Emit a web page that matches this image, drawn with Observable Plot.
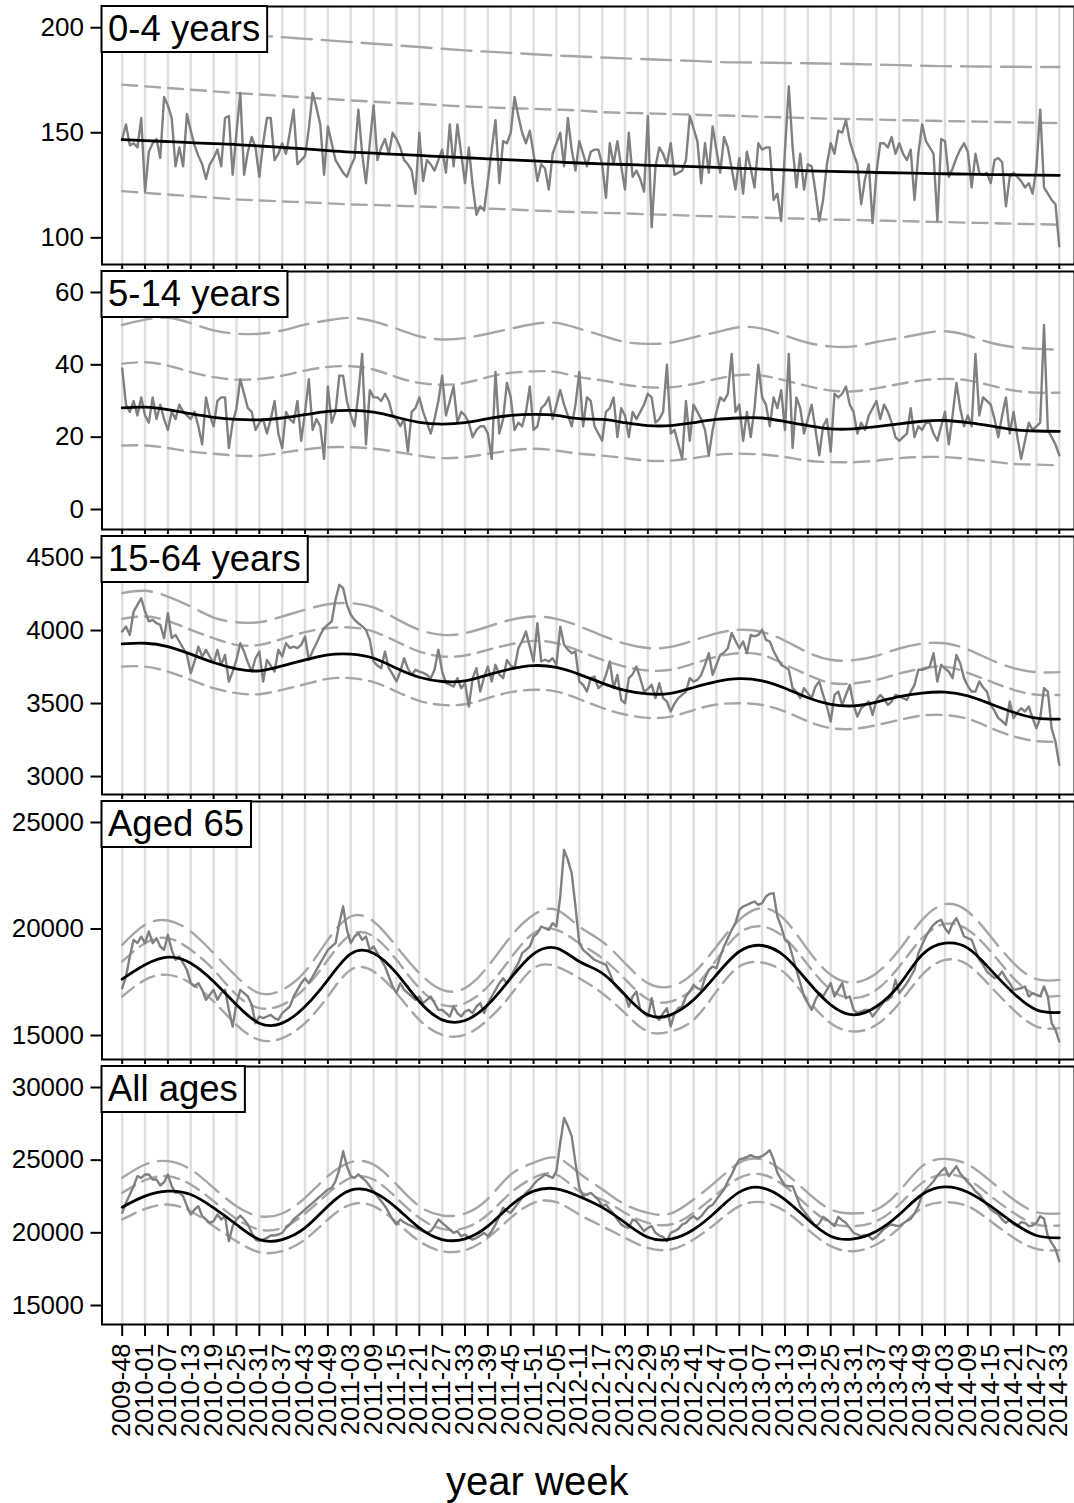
<!DOCTYPE html>
<html>
<head>
<meta charset="utf-8">
<script src="https://cdn.jsdelivr.net/npm/d3@7"></script>
<script src="https://cdn.jsdelivr.net/npm/@observablehq/plot@0.6"></script>
<style>
  html, body { margin: 0; padding: 0; background: #fff; }
  #chart { width: 1074px; }
  #chart svg { display: block; }
</style>
</head>
<body>
<div id="chart"></div>
<script>
// ---------- x-axis tick labels (every 6th ISO week) ----------
const weekTicks = ["2009-48","2010-01","2010-07","2010-13","2010-19","2010-25","2010-31","2010-37","2010-43","2010-49",
  "2011-03","2011-09","2011-15","2011-21","2011-27","2011-33","2011-39","2011-45","2011-51","2012-05",
  "2012-11","2012-17","2012-23","2012-29","2012-35","2012-41","2012-47","2013-01","2013-07","2013-13",
  "2013-19","2013-25","2013-31","2013-37","2013-43","2013-49","2014-03","2014-09","2014-15","2014-21",
  "2014-27","2014-33"];

const panelLabels = ["0-4 years", "5-14 years", "15-64 years", "Aged 65", "All ages"];

// ---------- 0-4 years ----------
const obs04 = [
  147,154,144,145,143,157,122,141,145,147, 138,167,163,157,134,143,134,159,151,144,
  139,135,128,135,138,142,134,157,158,130, 150,169,130,141,148,143,129,145,157,157,
  137,140,145,140,150,161,135,137,139,152, 169,162,154,130,153,145,137,134,131,129,
  134,138,161,140,126,145,163,137,143,147, 140,150,147,143,137,135,132,121,150,127,
  137,135,132,137,142,131,154,134,154,140, 126,143,125,111,115,113,127,142,156,126,
  146,145,150,167,158,150,145,151,140,127, 135,133,123,140,145,150,134,157,142,132,
  146,140,134,141,142,142,135,119,145,135, 146,134,123,150,129,132,128,122,158,105,
  134,143,140,135,145,130,131,132,137,158, 152,146,126,145,131,153,142,131,148,143,
  133,123,138,121,141,133,124,145,142,143, 143,118,121,108,142,172,143,124,140,123,
  135,134,122,108,118,135,145,140,151,150, 156,146,140,135,116,128,135,107,131,145,
  145,143,148,140,145,140,137,142,118,140, 154,146,143,140,108,147,146,129,133,138,
  142,145,141,124,140,131,130,131,126,137, 138,136,115,129,131,129,127,124,126,121,
  133,161,124,121,118,116,96];
const base04 = [146.7,146.3,145.8,145.3,144.8,144.4,143.7,143.0,142.3,141.5,140.8,140.3,139.7,139.2,138.6,138.1,137.6,137.1,136.6,136.1,
  135.6,135.2,134.9,134.5,134.2,133.9,133.5,133.1,132.7,132.3,131.9,131.6,131.4,131.1,130.9,130.7,130.5,130.3,130.1,130.0,129.8,129.7];
const upper2_04 = [200.5,199.8,199.1,198.4,197.7,197.0,196.2,195.5,194.7,194.0,193.2,192.4,191.6,190.8,190.0,189.2,188.6,188.0,187.4,186.8,
  186.3,185.8,185.4,185.0,184.6,184.2,183.7,183.5,183.4,183.2,183.1,182.9,182.7,182.4,182.2,181.9,181.7,181.6,181.5,181.4,181.3,181.3];
const upper1_04 = [172.9,172.1,171.3,170.5,169.7,168.9,168.2,167.5,166.8,166.1,165.4,164.8,164.2,163.7,163.1,162.5,162.1,161.7,161.4,161.0,
  160.6,159.8,159.5,159.2,158.9,158.6,158.3,158.0,157.6,157.3,157.0,156.7,156.5,156.3,156.0,155.8,155.6,155.4,155.2,155.0,154.8,154.6];
const lower04 = [122.2,121.4,120.6,119.8,119.1,118.3,117.8,117.3,116.9,116.4,115.9,115.6,115.3,114.9,114.6,114.3,113.9,113.5,113.0,112.6,
  112.2,111.9,111.6,111.2,110.9,110.5,110.2,109.9,109.6,109.3,109.0,108.7,108.5,108.2,108.0,107.7,107.5,107.2,107.0,106.7,106.5,106.2];

// ---------- 5-14 years ----------
const obs514 = [
  39,29,27,30,26,31,26,24,31,25, 29,25,22,27,25,29,27,26,25,27,
  23,18,31,26,23,30,31,31,17,24, 28,36,32,28,27,22,24,25,21,25,
  30,21,17,27,25,24,30,19,27,36, 22,25,23,14,34,24,27,37,37,30,
  26,23,32,43,18,33,31,31,30,32, 30,26,25,23,25,16,27,28,31,27,
  24,21,25,30,37,26,30,34,24,27, 26,24,20,22,23,23,21,14,38,21,
  25,35,31,22,24,23,27,34,22,23, 28,29,31,25,29,33,29,26,23,29,
  38,23,31,30,23,21,19,27,28,31, 20,28,26,20,27,25,27,29,32,31,
  24,25,27,40,21,22,18,14,30,19, 29,27,25,22,15,22,27,31,30,32,
  43,27,29,19,27,20,28,40,31,29, 23,31,28,33,22,43,17,31,28,21,
  25,29,22,15,23,25,16,32,31,32, 34,29,27,21,24,22,26,28,30,25,
  29,27,24,20,19,20,21,28,20,23, 22,24,24,21,19,23,27,18,26,35,
  28,23,26,23,43,26,31,30,29,25, 20,26,31,21,27,20,14,19,24,22,
  23,24,51,22,20,18,15];
const base514 = [28.1,28.3,27.6,26.5,25.5,24.9,24.8,25.3,26.2,27.1,27.4,26.9,25.5,24.1,23.6,24.0,25.1,26.0,26.3,26.0,
  25.1,24.9,24.0,23.2,23.2,24.0,24.9,25.3,25.3,24.3,23.2,22.3,22.3,22.9,23.7,24.4,24.6,24.0,23.1,22.1,21.7,21.6];
const upper2_514 = [51,52.5,53,51.5,49.5,48.6,48.6,49.5,51.1,52.3,53,52,50,47.9,47,47.4,48.6,50,51.3,51.6,
  50,48.1,46.3,45.8,46.1,47.6,49,50.4,50,48.1,46.1,45.1,45.1,46.3,47.4,48.6,49.3,48.1,46.1,44.9,44.4,44.2];
const upper1_514 = [40.3,40.7,39.8,38,36.6,35.9,36.1,37,38.4,39.4,39.6,38.7,36.6,35,34.5,35,36.6,37.8,38.2,38,
  36.6,35.7,34.5,33.8,33.8,34.7,36.1,37.2,37,35.7,34.1,32.9,32.7,33.5,34.7,35.7,36.1,35.7,34.3,32.9,32.3,32.3];
const lower514 = [17.7,17.7,17,16,15.4,14.9,14.9,15.7,16.6,17.2,17.2,16.8,15.9,14.9,14.2,14.5,15.4,16.3,16.8,16.3,
  15.4,14.9,14.2,13.5,13.5,14.2,15.1,15.4,15.2,14.5,13.5,13.1,13.1,13.5,14.2,14.5,14.5,14,13.3,12.6,12.4,12.2];

// ---------- 15-64 years ----------
const obs1564 = [
  3993,4027,3970,4130,4176,4221,4130,4062,4073,4050, 4039,3948,4119,3948,3970,3925,3880,3833,3708,3788,
  3890,3822,3868,3820,3776,3868,3765,3833,3651,3719, 3800,3913,3856,3780,3719,3810,3856,3651,3799,3760,
  3719,3868,3822,3913,3880,3890,3879,3902,3959,3799, 3860,3913,3970,4016,4040,4062,4210,4313,4290,4176,
  4110,4073,4050,4030,4005,3936,3788,3760,3742,3856, 3742,3700,3651,3719,3810,3740,3696,3731,3719,3710,
  3696,3674,3731,3868,3719,3639,3630,3617,3674,3605, 3640,3480,3674,3742,3582,3680,3753,3651,3765,3700,
  3674,3799,3760,3742,3879,3930,3993,3890,3788,4050, 3788,3800,3788,3810,3765,4027,3902,3870,3845,3856,
  3651,3628,3582,3674,3685,3605,3628,3696,3788,3605, 3696,3525,3502,3674,3700,3753,3674,3582,3600,3628,
  3537,3639,3537,3514,3445,3500,3537,3559,3582,3674, 3650,3662,3696,3765,3845,3696,3765,3833,3850,3879,
  3982,3930,3879,3925,3845,3970,3960,3970,4005,3936, 3925,3860,3810,3765,3750,3731,3605,3580,3537,3605,
  3570,3537,3617,3651,3559,3480,3377,3559,3582,3491, 3560,3628,3491,3411,3468,3490,3514,3422,3525,3559,
  3530,3491,3514,3559,3550,3537,3525,3580,3628,3731, 3731,3740,3753,3845,3651,3765,3740,3719,3674,3833,
  3776,3674,3620,3582,3582,3651,3610,3582,3491,3450, 3400,3380,3354,3514,3400,3440,3468,3445,3480,3400,
  3331,3400,3605,3582,3331,3240,3080];
const base1564 = [3909,3913,3890,3838,3781,3737,3724,3758,3799,3833,3838,3810,3742,3680,3651,3655,3696,3737,3760,3747,
  3700,3640,3590,3566,3570,3610,3650,3670,3655,3605,3540,3495,3484,3510,3548,3572,3578,3552,3497,3440,3400,3393];
const upper2_1564 = [4256,4272,4233,4164,4089,4057,4057,4096,4142,4180,4187,4158,4080,4005,3970,3982,4027,4073,4096,4080,
  4030,3965,3910,3880,3888,3932,3980,4005,3990,3930,3850,3800,3797,3827,3877,3910,3913,3870,3800,3742,3715,3715];
const upper1_1564 = [4080,4096,4066,4005,3948,3902,3902,3943,3989,4016,4021,3993,3925,3856,3822,3829,3868,3906,3929,3913,
  3860,3800,3752,3726,3731,3774,3820,3845,3833,3767,3696,3640,3638,3662,3706,3740,3753,3710,3651,3594,3560,3559];
const lower1564 = [3753,3753,3719,3662,3605,3571,3564,3594,3632,3669,3674,3646,3582,3518,3491,3495,3537,3578,3594,3582,
  3530,3470,3425,3402,3410,3455,3493,3502,3490,3445,3378,3332,3327,3352,3388,3418,3421,3395,3333,3275,3242,3240];

// ---------- Aged 65 ----------
const obs65 = [
  17222,17770,18709,19491,19335,19648,19335,19883,19335,19570, 19178,19022,19726,19022,18552,18709,18396,18083,17457,17300,
  17457,17144,16674,16909,17144,16674,16987,17144,16205,15422, 16518,17144,16987,16831,16440,15579,15892,15814,15892,15970,
  15814,15735,16048,16205,16361,16831,17144,17457,17692,17457, 17770,18083,18396,18709,19022,19178,19335,20274,21056,19961,
  19335,19648,19804,19491,19648,19022,19178,18865,18552,18239, 17770,17300,16987,17457,17144,16987,16831,16674,16831,16518,
  16674,16831,16518,16205,16205,16048,15892,16361,16048,15892, 16127,16205,16048,16361,16518,16048,16518,16831,17144,17457,
  17692,17457,17770,18083,18396,18865,19022,19178,19648,19804, 20117,20039,19961,20274,20117,21526,23717,23248,22621,21056,
  19335,19022,18865,18709,18552,18474,18396,18317,17926,17457, 17222,17066,16909,16361,16831,17066,16205,16048,15892,16752,
  15892,15735,16048,16283,15422,16048,16283,16361,16831,17066, 17379,17222,17144,17692,18083,18239,18161,18709,19178,19570,
  19961,20274,20900,21056,21134,21213,21291,21134,21213,21526, 21651,21682,20587,20117,19491,19335,18709,18083,17457,16831,
  16518,16205,16674,16987,16831,17144,17457,16831,17144,17457, 16752,16831,16205,16048,16127,16205,16205,15892,16127,16361,
  16596,16674,16831,17614,16987,17222,17457,17770,18083,18865, 19257,19648,19961,20196,20352,20430,20039,19804,20274,20508,
  20117,19648,19570,19491,19022,18552,18317,18004,17848,17692, 17770,18004,17692,17457,17144,17175,17222,17300,16831,16987,
  16909,16831,17300,16831,15579,15266,14718];
const base65 = [17645,18317,18677,18396,17535,16440,15579,15579,16361,17613,18834,18865,17926,16596,15735,15704,16440,17692,18834,19100,
  18474,17926,16909,15970,15970,16674,17848,18943,19225,18709,17535,16440,15970,16361,17379,18787,19335,19100,18083,16987,16205,16080];
const upper2_65 = [19257,20196,20399,19883,18865,17770,16987,17144,18004,19491,20587,20352,19178,17926,17144,17222,18239,19648,20665,20900,
  20117,19413,18396,17457,17301,17926,19178,20430,20978,20430,19022,17848,17488,17926,19022,20430,21166,20822,19648,18396,17645,17613];
const upper1_65 = [18474,19335,19570,19022,18083,16909,16283,16440,17222,18552,19726,19648,18552,17222,16440,16518,17301,18630,19804,19961,
  19335,18630,17645,16705,16596,17222,18552,19804,20117,19570,18317,17144,16752,17144,18239,19570,20242,19961,18943,17692,16909,16862];
const lower65 = [16831,17613,17848,17457,16596,15500,14796,14874,15579,16831,18083,18004,16987,15735,15031,15031,15735,16909,18161,18239,
  17692,16987,16048,15187,15187,15735,17066,18239,18427,17926,16674,15579,15187,15500,16518,17848,18552,18317,17301,16205,15422,15344];

// ---------- All ages ----------
const obsAll = [
  21375,22063,22637,23210,23898,23783,24013,24013,23669,23669, 23256,23485,24013,23210,22751,22751,22522,21833,21260,21604,
  21833,21145,20916,20686,20801,21260,20916,21145,19425,20457, 20916,21191,20916,20572,19998,19539,19425,19539,19654,19815,
  19815,19884,19998,20342,20572,20916,21145,21375,21604,21833, 22063,22292,22522,22751,22981,23095,23554,24357,25618,24586,
  23898,23783,24013,23783,23554,23210,22866,22522,22178,21833, 21375,20916,20572,20916,20732,20572,20457,20342,20228,20113,
  19998,20113,20457,20916,20686,20457,20228,19998,20113,19769, 19884,19654,19539,19654,19815,19998,19769,20113,20572,21145,
  21719,21489,21375,21719,22063,22407,22751,22981,23325,23623, 23783,24013,23898,23783,24242,26192,27912,27339,26651,24816,
  23095,22522,22637,22751,22522,22292,21833,21948,21604,21329, 20916,20572,20411,20342,20916,20801,20457,20113,20342,20457,
  19998,19815,19723,19425,19998,20113,20273,20572,20686,20962, 21145,20916,21145,21489,21787,21925,22292,22637,22981,23554,
  24013,24586,25045,25114,25206,25343,25229,25183,25275,25458, 25687,25045,24128,23669,23256,23210,23210,22522,21833,21489,
  21145,20801,20457,20640,21099,20916,20686,20457,21099,20870, 20686,20342,19998,19884,19769,19861,19769,19539,19723,19998,
  20273,20457,20572,20503,20457,20640,20824,20962,21329,21833, 22637,22981,23256,23554,23944,24242,24472,23898,24242,24586,
  24082,23783,23485,23210,22866,22637,22292,21948,21604,21421, 21260,20916,20686,20870,20572,20457,20732,20686,20457,20503,
  20686,21145,20962,19769,19310,18897,18048];
const baseAll = [21765,22522,22866,22636,21719,20572,19539,19539,20342,21833,22934,22797,21719,20342,19539,19585,20457,21879,22866,23026,
  22500,21750,20700,19700,19560,20230,21490,22800,23100,22290,20920,19770,19585,20113,21260,22636,23164,22797,21833,20686,19815,19654];
const upper2All = [23783,24701,24930,24357,23095,21833,21145,21329,22407,23898,24861,24701,23324,21833,21191,21329,22338,24013,24816,25160,
  24100,23000,21950,21370,21330,22292,23554,24816,25045,24127,22751,21604,21329,21604,22866,24586,25091,24701,23554,22292,21420,21329];
const upper1All = [22751,23623,23898,23324,22177,20962,20228,20342,21329,22705,23783,23669,22407,21031,20273,20342,21260,22751,23783,24013,
  22866,22292,21374,20686,20572,21374,22636,23783,24013,23210,21833,20686,20457,20801,21948,23439,24013,23669,22522,21374,20572,20503];
const lowerAll = [20916,21650,21948,21489,20457,19425,18668,18737,19539,20916,21948,21833,20732,19425,18737,18805,19654,21031,22063,22109,
  21260,20457,19654,18966,18851,19539,20686,21833,22109,21489,20228,19081,18737,19196,20342,21719,22109,21833,20801,19654,18897,18805];

// ---------- y tick values per panel ----------
const yTicks04 = [100, 150, 200];
const yTicks514 = [0, 20, 40, 60];
const yTicks1564 = [3000, 3500, 4000, 4500];
const yTicks65 = [15000, 20000, 25000];
const yTicksAll = [15000, 20000, 25000, 30000];

// ---------- build ----------
const panels = [
  {label: panelLabels[0], obs: obs04, base: base04, up2: upper2_04, up1: upper1_04, low: lower04, ticks: yTicks04, domain: [87.3, 210.1]},
  {label: panelLabels[1], obs: obs514, base: base514, up2: upper2_514, up1: upper1_514, low: lower514, ticks: yTicks514, domain: [-5.53, 65.8]},
  {label: panelLabels[2], obs: obs1564, base: base1564, up2: upper2_1564, up1: upper1_1564, low: lower1564, ticks: yTicks1564, domain: [2877, 4644]},
  {label: panelLabels[3], obs: obs65, base: base65, up2: upper2_65, up1: upper1_65, low: lower65, ticks: yTicks65, domain: [13873, 25986]},
  {label: panelLabels[4], obs: obsAll, base: baseAll, up2: upper2All, up1: upper1All, low: lowerAll, ticks: yTicksAll, domain: [13692, 31445]}
];

const tickIdx = weekTicks.map((_, k) => k * 6);
const smooth = arr => arr.map((v, k) => ({x: tickIdx[k], y: v}));
const FONT = "'Liberation Sans', Arial, Helvetica, sans-serif";
const container = document.getElementById("chart");

panels.forEach((p, idx) => {
  const last = idx === panels.length - 1;
  const marks = [
    Plot.ruleX(tickIdx, {stroke: "#dfdfdf", strokeWidth: 2.5}),
    Plot.line(smooth(p.up2), {x: "x", y: "y", curve: "natural", stroke: "#a6a6a6", strokeWidth: 2.4, strokeDasharray: "30,10"}),
    Plot.line(smooth(p.up1), {x: "x", y: "y", curve: "natural", stroke: "#a6a6a6", strokeWidth: 2.4, strokeDasharray: "15,8"}),
    Plot.line(smooth(p.low), {x: "x", y: "y", curve: "natural", stroke: "#a6a6a6", strokeWidth: 2.4, strokeDasharray: "15,8"}),
    Plot.line(p.obs, {x: (d, i) => i, y: d => d, stroke: "#808080", strokeWidth: 2.4}),
    Plot.line(smooth(p.base), {x: "x", y: "y", curve: "natural", stroke: "#000", strokeWidth: 2.8}),
    Plot.frame({stroke: "#000", strokeWidth: 2}),
    Plot.axisY({ticks: p.ticks, tickFormat: "d", tickSize: 11, tickPadding: 7, fontSize: 26, label: null, strokeWidth: 2}),
    last
      ? Plot.axisX({ticks: tickIdx, tickFormat: i => weekTicks[Math.round(i / 6)], tickRotate: -90, tickSize: 12, tickPadding: 7, fontSize: 25.5, label: null, strokeWidth: 2})
      : Plot.axisX({ticks: tickIdx, tickFormat: () => "", tickSize: 5, label: null, strokeWidth: 2}),
    Plot.text([p.label], {frameAnchor: "top-left", text: d => d, dx: 6, dy: 8.5, lineAnchor: "top", textAnchor: "start", fontSize: 36.5, fill: "#000"})
  ];
  if (last) {
    marks.push(Plot.text(["year week"], {frameAnchor: "bottom", text: d => d, dx: -51, dy: 170, fontSize: 40, fill: "#000"}));
  }
  const svg = Plot.plot({
    width: 1074,
    height: last ? 443 : 265,
    marginLeft: 101.5,
    marginRight: 0,
    marginTop: 6,
    marginBottom: last ? 179 : 1,
    style: {fontFamily: FONT, background: "transparent", overflow: "visible", color: "#000"},
    x: {domain: [-5.3, 250]},
    y: {domain: p.domain},
    marks
  });
  container.appendChild(svg);
  // white box behind the panel title, sized from the rendered text
  const t = Array.from(svg.querySelectorAll("text")).find(e => e.textContent === p.label);
  if (t) {
    const sr = svg.getBoundingClientRect();
    const tr = t.getBoundingClientRect();
    const x0 = 101.5, y0 = 6;
    const rect = document.createElementNS("http://www.w3.org/2000/svg", "rect");
    rect.setAttribute("x", x0);
    rect.setAttribute("y", y0);
    rect.setAttribute("width", (tr.right - sr.left) + 7 - x0);
    rect.setAttribute("height", 46);
    rect.setAttribute("fill", "#fff");
    rect.setAttribute("stroke", "#000");
    rect.setAttribute("stroke-width", 2);
    const g = t.closest("g");
    g.parentNode.insertBefore(rect, g);
  }
});
</script>
</body>
</html>
